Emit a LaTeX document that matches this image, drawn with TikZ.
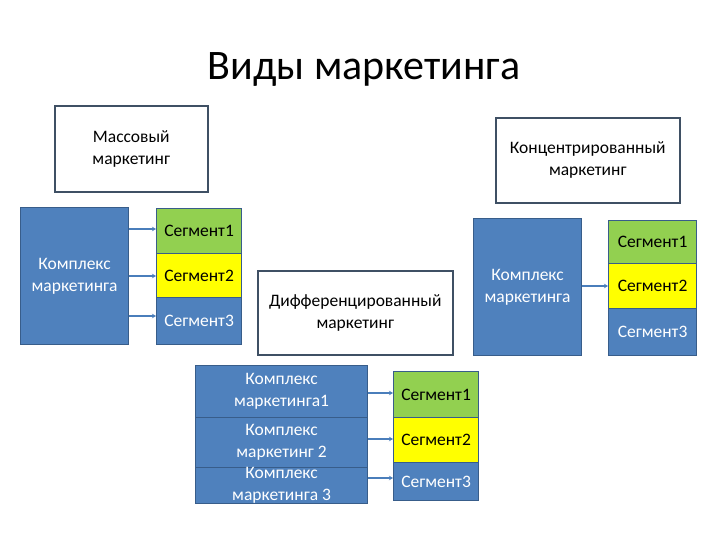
\documentclass[tikz,border=0pt]{standalone}
\usepackage{fontspec}
\setmainfont{Carlito}
\usetikzlibrary{arrows.meta,positioning,calc}
\definecolor{fillblue}{HTML}{4F81BD}
\definecolor{edgeblue}{HTML}{385D8A}
\definecolor{seggreen}{HTML}{92D050}
\definecolor{segyellow}{HTML}{FFFF00}
\definecolor{boxedge}{HTML}{3F5064}
\definecolor{linkblue}{HTML}{4A7EBB}
\tikzset{
  txt/.style={font=\fontsize{17.5}{22}\selectfont, align=center},
  wbox/.style={txt, draw=boxedge, line width=1.6pt, fill=white, anchor=north west, inner sep=0pt, text=black},
  bbox/.style={txt, draw=edgeblue, line width=1.2pt, fill=fillblue, anchor=north west, inner sep=0pt, text=white},
  gseg/.style={bbox, fill=seggreen, text=black},
  yseg/.style={bbox, fill=segyellow, text=black},
  bseg/.style={bbox},
  link/.style={draw=linkblue, line width=1.4pt, -{Stealth[length=4pt,width=4.5pt]}}
}
\begin{document}
\begin{tikzpicture}[x=1pt,y=-1pt]
\useasboundingbox (0,0) rectangle (720,540);
% title
\node[font=\fontsize{42}{48}\selectfont, anchor=base] (title) at (364,80) {Виды маркетинга};
% mass marketing
\node[wbox, minimum width=153pt, minimum height=86pt] (mass) at (54,105) {Массовый\\маркетинг};
\node[bbox, minimum width=108pt, minimum height=137pt] (kL) at (20,207) {Комплекс\\маркетинга};
\node[gseg, minimum width=85pt, minimum height=45pt] (sL1) at (156,208) {Сегмент1};
\node[yseg, minimum width=85pt, minimum height=44pt] (sL2) at (156,253) {Сегмент2};
\node[bseg, minimum width=85pt, minimum height=47pt] (sL3) at (156,297) {Сегмент3};
\coordinate (cL1) at (156,229);
\coordinate (cL2) at (156,276);
\coordinate (cL3) at (156,316);
\draw[link] (kL.east |- cL1) -- (cL1);
\draw[link] (kL.east |- cL2) -- (cL2);
\draw[link] (kL.east |- cL3) -- (cL3);
% concentrated marketing
\node[wbox, minimum width=184pt, minimum height=85pt] (conc) at (495,117) {Концентрированный\\маркетинг};
\node[bbox, minimum width=108pt, minimum height=137pt] (kR) at (473,218) {Комплекс\\маркетинга};
\node[gseg, minimum width=88pt, minimum height=43pt] (sR1) at (608,220) {Сегмент1};
\node[yseg, minimum width=88pt, minimum height=45pt] (sR2) at (608,263) {Сегмент2};
\node[bseg, minimum width=88pt, minimum height=47pt] (sR3) at (608,308) {Сегмент3};
\coordinate (cR) at (608,286);
\draw[link] (kR.east |- cR) -- (cR);
% differentiated marketing
\node[wbox, minimum width=195pt, minimum height=84pt] (diff) at (257,270) {Дифференцированный\\маркетинг};
\node[bbox, minimum width=172pt, minimum height=52pt] (kB1) at (195,365) {Комплекс\\маркетинга1};
\node[bbox, minimum width=172pt, minimum height=50pt] (kB2) at (195,417) {Комплекс\\маркетинг 2};
\node[bbox, minimum width=172pt, minimum height=35pt] (kB3) at (195,467) {Комплекс\\маркетинга 3};
\node[gseg, minimum width=85pt, minimum height=46pt] (sB1) at (393,371) {Сегмент1};
\node[yseg, minimum width=85pt, minimum height=45pt] (sB2) at (393,417) {Сегмент2};
\node[bseg, minimum width=85pt, minimum height=38pt] (sB3) at (393,462) {Сегмент3};
\coordinate (cB1) at (393,393);
\coordinate (cB2) at (393,439);
\coordinate (cB3) at (393,478);
\draw[link] (kB1.east |- cB1) -- (cB1);
\draw[link] (kB2.east |- cB2) -- (cB2);
\draw[link] (kB3.east |- cB3) -- (cB3);
\end{tikzpicture}
\end{document}
